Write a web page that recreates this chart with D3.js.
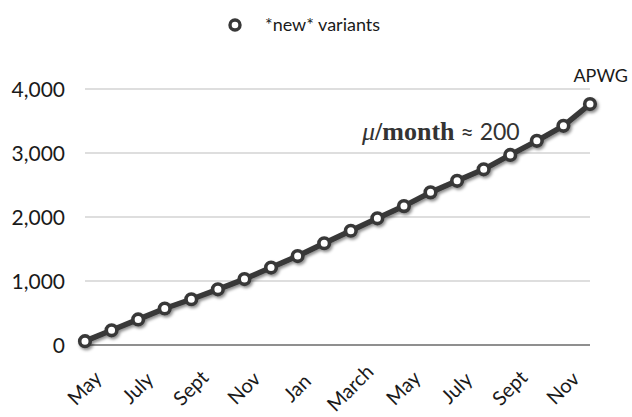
<!DOCTYPE html>
<html>
<head>
<meta charset="utf-8">
<script src="https://cdn.jsdelivr.net/npm/d3@7"></script>
<style>
  html, body { margin: 0; padding: 0; background: #fff; }
  svg { display: block; }
</style>
</head>
<body>
<svg id="chart" width="632" height="417"></svg>
<script>
// ---- data ----
const months = ["May","June","July","Aug","Sept","Oct","Nov","Dec","Jan","Feb","March","Apr",
                "May","June","July","Aug","Sept","Oct","Nov","Dec"];
const variants = [60, 230, 400, 570, 715, 870, 1030, 1210, 1390, 1590, 1785, 1980,
                  2170, 2385, 2565, 2745, 2970, 3190, 3425, 3765];
const yTicks = [0, 1000, 2000, 3000, 4000];
const seriesName = "*new* variants";
const sourceLabel = "APWG";

(function () {
// ---- layout ----
const svg = d3.select("#chart");
const mLeft = 85, mRight = 590, mTop = 89, mBottom = 345;
const sans = "Lato, 'Open Sans', sans-serif";
const ink = "#383838";

const x = d3.scalePoint().domain(d3.range(months.length)).range([mLeft, mRight]);
const y = d3.scaleLinear().domain([0, 4000]).range([mBottom, mTop]);

const defs = svg.append("defs");
const f = defs.append("filter").attr("id", "shadow")
  .attr("x", "-20%").attr("y", "-20%").attr("width", "140%").attr("height", "140%");
f.append("feDropShadow").attr("dx", 1.5).attr("dy", 2).attr("stdDeviation", 1.6)
  .attr("flood-color", "#000").attr("flood-opacity", 0.45);

// gridlines
svg.append("g").selectAll("line").data(yTicks).join("line")
  .attr("x1", mLeft).attr("x2", mRight)
  .attr("y1", d => y(d)).attr("y2", d => y(d))
  .attr("stroke", d => d === 0 ? "#6a6a6a" : "#bdbdbd")
  .attr("stroke-width", d => d === 0 ? 1.3 : 1);

// y axis labels
const yAxis = d3.axisLeft(y).tickValues(yTicks).tickFormat(d3.format(",")).tickSize(0).tickPadding(0);
const yg = svg.append("g").attr("transform", `translate(${mLeft - 20},0)`).call(yAxis);
yg.select(".domain").remove();
yg.selectAll("text").attr("font-family", sans).attr("font-size", 21).attr("fill", "#1a1a1a")
  .attr("dy", "0.35em");

// x axis labels (rotated)
const xAxis = d3.axisBottom(x).tickValues(d3.range(0, months.length, 2))
  .tickFormat(i => months[i]).tickSize(0).tickPadding(0);
const xg = svg.append("g").attr("transform", `translate(0,${mBottom})`).call(xAxis);
xg.select(".domain").remove();
xg.selectAll("text")
  .attr("font-family", sans).attr("font-size", 20).attr("fill", "#1a1a1a")
  .attr("text-anchor", "middle").attr("y", 0).attr("dy", "0.35em")
  .attr("transform", "translate(-1,43) rotate(-45)");

// line + markers
const g = svg.append("g").attr("filter", "url(#shadow)");
g.append("path").datum(variants)
  .attr("fill", "none").attr("stroke", ink).attr("stroke-width", 5.5)
  .attr("stroke-linejoin", "round")
  .attr("d", d3.line().x((d, i) => x(i)).y(d => y(d)));
g.selectAll("circle").data(variants).join("circle")
  .attr("cx", (d, i) => x(i)).attr("cy", d => y(d)).attr("r", 5.3)
  .attr("fill", "#fff").attr("stroke", ink).attr("stroke-width", 3.6);

// legend
svg.append("circle").attr("cx", 235).attr("cy", 25).attr("r", 5)
  .attr("fill", "#fff").attr("stroke", ink).attr("stroke-width", 3.4);
svg.append("text").attr("x", 265).attr("y", 25).attr("dy", "0.35em")
  .attr("font-family", sans).attr("font-size", 18).attr("fill", "#1a1a1a").text(seriesName);

// annotations
svg.append("text").attr("x", 628).attr("y", 82).attr("text-anchor", "end")
  .attr("font-family", sans).attr("font-size", 18).attr("fill", "#1a1a1a").text(sourceLabel);

const ann = svg.append("text").attr("x", 362).attr("y", 140).attr("fill", "#333");
ann.append("tspan").attr("font-family", "'Liberation Serif', 'DejaVu Serif', serif")
  .attr("font-style", "italic").attr("font-size", 26).text("μ");
ann.append("tspan").attr("font-family", "'Liberation Serif', 'DejaVu Serif', serif")
  .attr("font-weight", "bold").attr("font-size", 26).text("/month");
ann.append("tspan").attr("font-family", sans).attr("font-size", 23).text(" ≈ 200");
})();
</script>
</body>
</html>
